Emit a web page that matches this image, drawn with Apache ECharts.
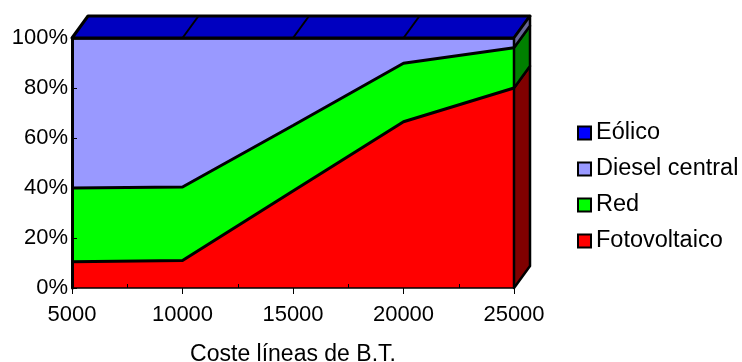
<!DOCTYPE html>
<html>
<head>
<meta charset="utf-8">
<script src="https://cdn.jsdelivr.net/npm/echarts@6/dist/echarts.min.js"></script>
<style>
html,body{margin:0;padding:0;background:#fff;}
#chart{width:742px;height:362px;}
</style>
</head>
<body>
<div id="chart"></div>
<script>
// Data
const categories = ['5000', '10000', '15000', '20000', '25000'];
const fotovoltaico = [10.5, 11.0, 38.8, 66.5, 80.0];
const redValues = [29.5, 29.4, 26.2, 23.4, 16.1];
const dieselCentral = [60.0, 59.6, 35.0, 10.1, 3.9];
const eolico = [0, 0, 0, 0, 0];
const seriesNames = ['Fotovoltaico', 'Red', 'Diesel central', 'Eólico'];
const legendOrder = ['Eólico', 'Diesel central', 'Red', 'Fotovoltaico'];
const yTicks = [0, 20, 40, 60, 80, 100];

const FONT = "'Liberation Sans', Arial, sans-serif";
const colors = ['#ff0000', '#00ff00', '#9999ff', '#0000ff'];
const sideColors = ['#800000', '#008000', '#666699', '#000080'];
const topColor = '#0000c0';
const DX = 16, DY = -22;

const allSeries = [fotovoltaico, redValues, dieselCentral, eolico];

const lineSeries = seriesNames.map((name, k) => ({
  name: name,
  type: 'line',
  stack: 'total',
  data: allSeries[k],
  symbol: 'none',
  showSymbol: false,
  itemStyle: { color: colors[k] },
  lineStyle: { color: '#000', width: 3 },
  areaStyle: { color: colors[k], opacity: 1 },
  z: 2
}));

const depthSeries = {
  type: 'custom',
  name: 'depth',
  xAxisIndex: 0,
  yAxisIndex: 0,
  data: [[0, 0]],
  clip: false,
  silent: true,
  z: 5,
  renderItem: function (params, api) {
    const children = [];
    const yMax = yTicks[yTicks.length - 1];
    const last = categories.length - 1;
    // top face
    const a = api.coord([0, yMax]);
    const b = api.coord([last, yMax]);
    children.push({
      type: 'polygon',
      shape: { points: [a, [a[0] + DX, a[1] + DY], [b[0] + DX, b[1] + DY], b] },
      style: { fill: topColor, stroke: '#000', lineWidth: 3, lineJoin: 'round' }
    });
    for (let i = 1; i < last; i++) {
      const p = api.coord([i, yMax]);
      children.push({
        type: 'line',
        shape: { x1: p[0], y1: p[1], x2: p[0] + DX, y2: p[1] + DY },
        style: { stroke: '#000', lineWidth: 2 }
      });
    }
    // side face at last category
    let cum = 0;
    for (let k = 0; k < allSeries.length; k++) {
      const lo = cum;
      const hi = cum + allSeries[k][last];
      cum = hi;
      if (hi - lo <= 0) continue;
      const p1 = api.coord([last, lo]);
      const p2 = api.coord([last, hi]);
      children.push({
        type: 'polygon',
        shape: { points: [p1, [p1[0] + DX, p1[1] + DY], [p2[0] + DX, p2[1] + DY], p2] },
        style: { fill: sideColors[k], stroke: '#000', lineWidth: 2.5, lineJoin: 'round' }
      });
    }
    return { type: 'group', children: children };
  }
};

const chart = echarts.init(document.getElementById('chart'), null, { renderer: 'canvas' });
chart.setOption({
  animation: false,
  backgroundColor: '#fff',
  textStyle: { fontFamily: FONT, color: '#000' },
  grid: { left: 72, top: 38, width: 442, height: 250, outerBoundsMode: 'none', containLabel: false },
  legend: {
    data: legendOrder,
    orient: 'vertical',
    left: 572,
    top: 116,
    icon: 'rect',
    itemWidth: 13,
    itemHeight: 13,
    itemGap: 12,
    itemStyle: { borderColor: '#000', borderWidth: 2 },
    textStyle: { fontFamily: FONT, fontSize: 23.5, color: '#000' }
  },
  xAxis: [{
    type: 'category',
    data: categories,
    boundaryGap: false,
    name: 'Coste líneas de B.T.',
    nameLocation: 'middle',
    nameGap: 55,
    nameTextStyle: { fontFamily: FONT, fontSize: 23, color: '#000' },
    axisLine: { show: true, lineStyle: { color: '#000', width: 1.5 } },
    axisTick: { show: true, inside: false, length: 6, alignWithLabel: true, lineStyle: { color: '#000' } },
    axisLabel: { fontFamily: FONT, fontSize: 22, color: '#000', margin: 16 },
    splitLine: { show: false },
    z: 6
  }, {
    type: 'value',
    position: 'bottom',
    min: 0,
    max: 4,
    interval: 0.5,
    gridIndex: 0,
    axisLine: { show: false },
    axisLabel: { show: false },
    axisTick: { show: true, inside: true, length: 4, lineStyle: { color: '#000' },
      customValues: [0.5, 1.5, 2.5, 3.5] },
    splitLine: { show: false },
    z: 6
  }],
  yAxis: {
    type: 'value',
    min: 0,
    max: 100,
    interval: 20,
    axisLine: { show: true, lineStyle: { color: '#000', width: 3 } },
    axisTick: { show: true, inside: true, length: 5, lineStyle: { color: '#000' } },
    axisLabel: { fontFamily: FONT, fontSize: 22, color: '#000', margin: 4, formatter: '{value}%' },
    splitLine: { show: false },
    z: 6
  },
  series: lineSeries.concat([depthSeries])
});
</script>
</body>
</html>
